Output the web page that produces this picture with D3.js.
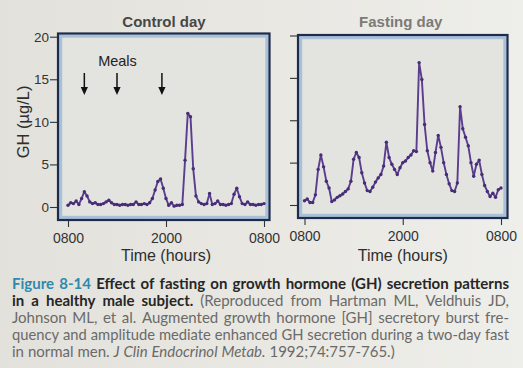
<!DOCTYPE html>
<html><head><meta charset="utf-8">
<script src="https://cdn.jsdelivr.net/npm/d3@7"></script>
<style>html,body{margin:0;padding:0;background:#e7e6e1;}svg{display:block;}</style>
</head><body>
<svg id="c" width="523" height="368"></svg>
<script>
// ---- data (hours after 0800, sampled every 20 min) ----
const hours = d3.range(0, 73).map(i => i / 3);
const controlGH = [0.2,0.5,0.4,0.7,0.3,1.0,1.8,1.3,0.6,0.4,0.5,0.3,0.3,0.4,0.6,0.8,0.5,0.3,0.3,0.2,0.3,0.3,0.2,0.3,0.3,0.6,0.3,0.3,0.4,0.3,0.5,1.0,2.0,3.0,3.3,2.2,1.0,0.2,0.5,0.1,0.2,0.2,0.3,5.5,11.0,10.6,4.5,1.3,0.6,0.4,0.3,0.4,1.6,0.3,0.4,0.7,0.3,0.3,0.2,0.3,0.4,1.5,2.2,1.2,0.4,0.3,0.6,0.3,0.3,0.2,0.3,0.3,0.4];
const fastingGH = [0.5,0.7,0.3,0.3,1.2,4.2,5.9,4.5,2.8,2.0,0.4,0.6,0.9,1.1,1.3,1.6,1.9,2.8,5.4,6.2,5.6,3.8,2.6,1.7,1.6,2.1,2.7,3.2,3.6,4.6,7.4,5.6,4.8,4.2,3.6,4.4,5.0,5.2,5.6,5.9,6.4,6.3,16.8,14.8,9.5,6.4,5.0,4.0,6.2,8.2,6.8,5.0,3.6,2.5,1.7,1.6,2.6,11.6,9.0,8.0,7.0,5.0,3.4,4.8,5.3,3.6,2.3,1.6,1.0,1.4,0.9,1.8,2.0];
const mealHours = [2, 6, 11.5];
const xTickValues = [0, 12, 24];
const xTickLabels = ["0800", "2000", "0800"];
const yTickValues = [0, 5, 10, 15, 20];
const panelTitles = ["Control day", "Fasting day"];
const yLabel = "GH (\u00b5g/L)";
const xLabel = "Time (hours)";
const captionLines = [
  [["Figure 8-14", "fig"], ["Effect of fasting on growth hormone (GH) secretion patterns", "bold"]],
  [["in a healthy male subject.", "bold"], ["(Reproduced from Hartman ML, Veldhuis JD,", "reg"]],
  [["Johnson ML, et al. Augmented growth hormone [GH] secretory burst fre-", "reg"]],
  [["quency and amplitude mediate enhanced GH secretion during a two-day fast", "reg"]],
  [["in normal men.", "reg"], ["J Clin Endocrinol Metab.", "ital"], ["1992;74:757-765.)", "reg"]]
];

const svg = d3.select("#c");
const defs = svg.append("defs");
const grad = defs.append("linearGradient").attr("id", "bg").attr("x1", 0).attr("x2", 1).attr("y1", 0).attr("y2", 0);
grad.append("stop").attr("offset", "0%").attr("stop-color", "#e3e1db");
grad.append("stop").attr("offset", "100%").attr("stop-color", "#eeeeea");
svg.append("rect").attr("width", 523).attr("height", 368).attr("fill", "url(#bg)");

const chartFont = "'Liberation Sans', Arial, sans-serif";

const panels = [
  {frame: {x: 58, y: 33.5, w: 211.5, h: 186.5}, xr: [68, 264], yr: [207, 36.7], data: controlGH, title: panelTitles[0], tcol: "#474747", labels: true},
  {frame: {x: 298, y: 35, w: 209.5, h: 183}, xr: [304.5, 501], yr: [205, 35.5], data: fastingGH, title: panelTitles[1], tcol: "#7b7a77", labels: false}
];

panels.forEach((p, pi) => {
  const x = d3.scaleLinear().domain([0, 24]).range(p.xr);
  const y = d3.scaleLinear().domain([0, 20]).range(p.yr);
  const g = svg.append("g");
  const f = p.frame;
  // frame
  g.append("rect").attr("x", f.x).attr("y", f.y).attr("width", f.w).attr("height", f.h)
    .attr("fill", "#e3e3df");
  g.append("rect").attr("x", f.x + 2.6).attr("y", f.y + 2.6).attr("width", f.w - 5.2).attr("height", f.h - 5.2)
    .attr("fill", "none").attr("stroke", "#a9c1d8").attr("stroke-width", 3.2);
  g.append("rect").attr("x", f.x).attr("y", f.y).attr("width", f.w).attr("height", f.h)
    .attr("fill", "none").attr("stroke", "#1d2b4d").attr("stroke-width", 2.2);

  // y axis
  const yAxis = d3.axisLeft(y).tickValues(yTickValues).tickSize(7).tickPadding(1)
    .tickFormat(p.labels ? d3.format("d") : () => "");
  const ya = g.append("g").attr("transform", `translate(${f.x - 1},0)`).call(yAxis);
  ya.select(".domain").remove();
  ya.selectAll("line").attr("stroke", "#333").attr("stroke-width", 1.1);
  ya.selectAll("text").attr("font-family", chartFont).attr("font-size", 13.5).attr("fill", "#333");

  // x axis
  const xAxis = d3.axisBottom(x).tickValues(xTickValues).tickSize(6).tickPadding(6)
    .tickFormat((d, i) => xTickLabels[i]);
  const xa = g.append("g").attr("transform", `translate(0,${f.y + f.h + 1})`).call(xAxis);
  xa.select(".domain").remove();
  xa.selectAll("line").attr("stroke", "#333").attr("stroke-width", 1.1);
  xa.selectAll("text").attr("font-family", chartFont).attr("font-size", 14).attr("fill", "#333");

  g.append("text").attr("x", (p.xr[0] + p.xr[1]) / 2).attr("y", 260.5).attr("text-anchor", "middle")
    .attr("font-family", chartFont).attr("font-size", 16).attr("fill", "#2e2e2e").text(xLabel);

  g.append("text").attr("x", (p.xr[0] + p.xr[1]) / 2 - 2).attr("y", 26.5).attr("text-anchor", "middle")
    .attr("font-family", chartFont).attr("font-size", 15).attr("font-weight", "bold").attr("fill", p.tcol).text(p.title);

  // series
  const pts = hours.map((h, i) => [h, p.data[i]]);
  g.append("path").datum(pts)
    .attr("d", d3.line().x(d => x(d[0])).y(d => y(d[1])))
    .attr("fill", "none").attr("stroke", "#5a3d8e").attr("stroke-width", 1.9).attr("stroke-linejoin", "round");
  g.selectAll("circle.pt").data(pts).join("circle").attr("class", "pt")
    .attr("cx", d => x(d[0])).attr("cy", d => y(d[1])).attr("r", 1.7).attr("fill", "#472c76");

  if (pi === 0) {
    g.append("text").attr("transform", `translate(28.5,${(p.yr[0] + p.yr[1]) / 2}) rotate(-90)`)
      .attr("text-anchor", "middle").attr("font-family", chartFont).attr("font-size", 16.5).attr("fill", "#2e2e2e").text(yLabel);
    g.append("text").attr("x", 117.5).attr("y", 66).attr("text-anchor", "middle")
      .attr("font-family", chartFont).attr("font-size", 14.5).attr("fill", "#222").text("Meals");
    mealHours.forEach(h => {
      const ax = x(h);
      g.append("line").attr("x1", ax).attr("x2", ax).attr("y1", 73).attr("y2", 90)
        .attr("stroke", "#111").attr("stroke-width", 1.5);
      g.append("path").attr("d", `M${ax - 3.6},${87} L${ax + 3.6},${87} L${ax},${95} Z`).attr("fill", "#111");
    });
  }
});

// caption, justified
const capFont = "Lato, 'Open Sans', sans-serif";
const styles = {
  fig: {fill: "#2f8aae", weight: "bold", style: "normal"},
  bold: {fill: "#262626", weight: "bold", style: "normal"},
  reg: {fill: "#6a6a68", weight: "normal", style: "normal"},
  ital: {fill: "#6a6a68", weight: "normal", style: "italic"}
};
const capX0 = 12, capX1 = 509, capFS = 15;
const baselines = [289, 306, 323, 340, 356.5];
captionLines.forEach((line, li) => {
  const words = [];
  line.forEach(([txt, st]) => txt.split(" ").forEach(w => words.push({w, st})));
  const cg = svg.append("g");
  const els = words.map(o => {
    const s = styles[o.st];
    const t = cg.append("text").attr("y", baselines[li]).attr("font-family", capFont).attr("font-size", capFS)
      .attr("fill", s.fill).attr("font-weight", s.weight).attr("font-style", s.style).text(o.w);
    return {t, len: t.node().getComputedTextLength()};
  });
  const total = d3.sum(els, e => e.len);
  const justify = li < captionLines.length - 1;
  const minGap = capFS * 0.26;
  let gap = minGap, k = 1;
  if (justify) {
    const avail = capX1 - capX0;
    if (total + minGap * (els.length - 1) > avail) {
      k = (avail - minGap * (els.length - 1)) / total;
    } else {
      gap = (avail - total) / (els.length - 1);
    }
  }
  let cx = capX0;
  els.forEach(e => {
    e.t.attr("x", cx);
    if (k !== 1) e.t.attr("textLength", e.len * k).attr("lengthAdjust", "spacingAndGlyphs");
    cx += e.len * k + gap;
  });
});
</script>
</body></html>
